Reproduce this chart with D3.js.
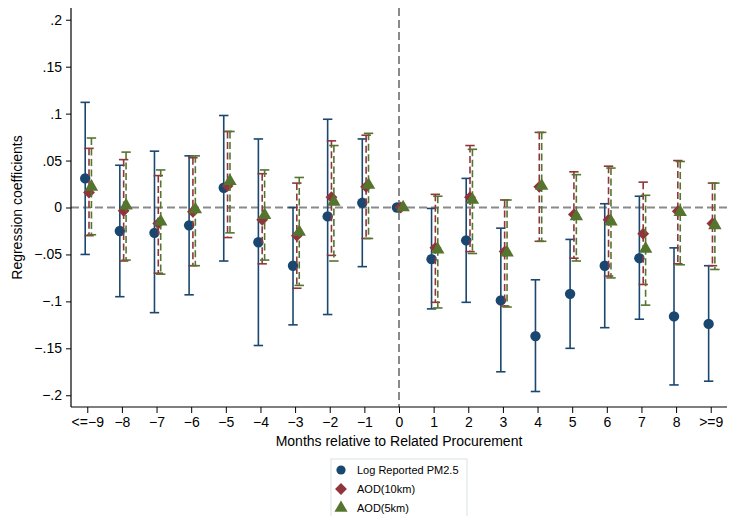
<!DOCTYPE html>
<html>
<head>
<meta charset="utf-8">
<script src="https://cdn.jsdelivr.net/npm/d3@7"></script>
<style>
  html, body { margin: 0; padding: 0; background: #fff; }
  svg { display: block; font-family: "Liberation Sans", Arial, Helvetica, sans-serif; }
</style>
</head>
<body>
<svg id="chart" width="730" height="516"></svg>
<script>
// Event-study coefficients by month relative to the related procurement
const months = [-9, -8, -7, -6, -5, -4, -3, -2, -1, 0, 1, 2, 3, 4, 5, 6, 7, 8, 9];
const monthLabels = ["<=\u22129", "\u22128", "\u22127", "\u22126", "\u22125", "\u22124", "\u22123", "\u22122", "\u22121",
                     "0", "1", "2", "3", "4", "5", "6", "7", "8", ">=9"];
const yTicks = [0.2, 0.15, 0.1, 0.05, 0, -0.05, -0.1, -0.15, -0.2];
const yTickLabels = [".2", ".15", ".1", ".05", "0", "\u2212.05", "\u2212.1", "\u2212.15", "\u2212.2"];

// Log Reported PM2.5
const pm   = [0.031, -0.025, -0.027, -0.019, 0.021, -0.037, -0.062, -0.0095, 0.005, 0, -0.055, -0.035, -0.099, -0.137, -0.092, -0.062, -0.054, -0.116, -0.124];
const pmHi = [0.112, 0.045, 0.060, 0.055, 0.098, 0.073, 0.000, 0.094, 0.073, 0, -0.001, 0.031, -0.022, -0.077, -0.034, 0.004, 0.012, -0.043, -0.062];
const pmLo = [-0.050, -0.095, -0.112, -0.093, -0.057, -0.147, -0.125, -0.114, -0.063, 0, -0.108, -0.101, -0.175, -0.196, -0.150, -0.128, -0.119, -0.189, -0.185];

// AOD(10km)
const aod10   = [0.016, -0.0035, -0.017, -0.0045, 0.023, -0.013, -0.030, 0.011, 0.022, 0, -0.043, 0.011, -0.047, 0.022, -0.0075, -0.013, -0.028, -0.004, -0.017];
const aod10Hi = [0.063, 0.051, 0.034, 0.053, 0.081, 0.036, 0.026, 0.071, 0.077, 0, 0.014, 0.066, 0.008, 0.080, 0.038, 0.044, 0.027, 0.050, 0.026];
const aod10Lo = [-0.030, -0.057, -0.070, -0.062, -0.032, -0.060, -0.086, -0.051, -0.033, 0, -0.101, -0.047, -0.105, -0.036, -0.054, -0.073, -0.082, -0.060, -0.062];

// AOD(5km)
const aod5   = [0.022, 0.002, -0.015, -0.002, 0.028, -0.008, -0.026, 0.006, 0.024, 0, -0.045, 0.008, -0.048, 0.023, -0.0095, -0.015, -0.044, -0.005, -0.019];
const aod5Hi = [0.074, 0.059, 0.040, 0.055, 0.081, 0.040, 0.032, 0.066, 0.079, 0, 0.012, 0.062, 0.008, 0.080, 0.035, 0.042, 0.013, 0.049, 0.026];
const aod5Lo = [-0.029, -0.056, -0.071, -0.062, -0.027, -0.056, -0.083, -0.057, -0.033, 0, -0.107, -0.049, -0.106, -0.036, -0.057, -0.075, -0.104, -0.061, -0.066];

const series = [
  { name: "Log Reported PM2.5", est: pm,    lo: pmLo,    hi: pmHi,    color: "#1a476f", shift: -0.06, dash: null,  shape: "circle" },
  { name: "AOD(10km)",          est: aod10, lo: aod10Lo, hi: aod10Hi, color: "#90353b", shift: 0.05,  dash: "7,3.5", shape: "diamond" },
  { name: "AOD(5km)",           est: aod5,  lo: aod5Lo,  hi: aod5Hi,  color: "#55752f", shift: 0.12,  dash: "7,3.5", shape: "triangle" }
];

const svg = d3.select("#chart");
const plot = { left: 71, right: 727, top: 8, bottom: 407 };

const x = d3.scaleLinear().domain([-9.47, 9.47]).range([plot.left, plot.right]);
const y = d3.scaleLinear().domain([-0.2125, 0.2125]).range([plot.bottom, plot.top]);

// Reference lines at zero
svg.append("line")
  .attr("x1", plot.left).attr("x2", plot.right)
  .attr("y1", y(0)).attr("y2", y(0))
  .attr("stroke", "#8a8a8a").attr("stroke-width", 2).attr("stroke-dasharray", "8,4");
svg.append("line")
  .attr("x1", x(0)).attr("x2", x(0))
  .attr("y1", plot.top).attr("y2", plot.bottom)
  .attr("stroke", "#8a8a8a").attr("stroke-width", 2).attr("stroke-dasharray", "8,4");

// Axes
const yAxis = d3.axisLeft(y).tickValues(yTicks).tickSize(5).tickPadding(4)
  .tickFormat((d, i) => yTickLabels[i]);
const gy = svg.append("g").attr("transform", `translate(${plot.left},0)`).call(yAxis);
gy.select(".domain").attr("d", `M0,${plot.top}V${plot.bottom}`).attr("stroke", "#000").attr("stroke-width", 1.2);
gy.selectAll(".tick line").attr("stroke", "#000");
gy.selectAll(".tick text").attr("font-size", 14).attr("fill", "#000")
  .attr("font-family", "'Liberation Sans', Arial, sans-serif");

const xAxis = d3.axisBottom(x).tickValues(months).tickSize(6).tickPadding(4)
  .tickFormat((d, i) => monthLabels[i]);
const gx = svg.append("g").attr("transform", `translate(0,${plot.bottom})`).call(xAxis);
gx.select(".domain").attr("d", `M${plot.left},0H${plot.right}`).attr("stroke", "#000").attr("stroke-width", 1.2);
gx.selectAll(".tick line").attr("stroke", "#000");
gx.selectAll(".tick text").attr("font-size", 14).attr("fill", "#000")
  .attr("font-family", "'Liberation Sans', Arial, sans-serif");

// Axis titles
svg.append("text")
  .attr("x", x(0)).attr("y", 446)
  .attr("text-anchor", "middle").attr("font-size", 14).attr("fill", "#000")
  .text("Months relative to Related Procurement");
svg.append("text")
  .attr("transform", `translate(22,${y(0)}) rotate(-90)`)
  .attr("text-anchor", "middle").attr("font-size", 14).attr("fill", "#000")
  .text("Regression coefficients");

// Confidence intervals and point estimates, one series after another
const capHalf = 4.7;
const symbolFor = {
  circle: d3.symbol().type(d3.symbolCircle).size(Math.PI * 5.2 * 5.2),
  diamond: d3.symbol().type(d3.symbolSquare).size(8.4 * 8.4),
  triangle: d3.symbol().type(d3.symbolTriangle).size(78)
};

series.forEach(s => {
  const g = svg.append("g");
  const rows = months.map((m, i) => ({ m, est: s.est[i], lo: s.lo[i], hi: s.hi[i] }))
    .filter(r => r.hi !== r.lo);
  const bars = g.selectAll("g.ci").data(rows).join("g").attr("class", "ci")
    .attr("stroke", s.color).attr("stroke-width", 1.6).attr("fill", "none");
  bars.append("line")
    .attr("x1", r => x(r.m + s.shift)).attr("x2", r => x(r.m + s.shift))
    .attr("y1", r => y(r.hi)).attr("y2", r => y(r.lo))
    .attr("stroke-dasharray", s.dash);
  bars.append("line")
    .attr("x1", r => x(r.m + s.shift) - capHalf).attr("x2", r => x(r.m + s.shift) + capHalf)
    .attr("y1", r => y(r.hi)).attr("y2", r => y(r.hi));
  bars.append("line")
    .attr("x1", r => x(r.m + s.shift) - capHalf).attr("x2", r => x(r.m + s.shift) + capHalf)
    .attr("y1", r => y(r.lo)).attr("y2", r => y(r.lo));

  g.selectAll("path.pt").data(months.map((m, i) => ({ m, est: s.est[i] }))).join("path")
    .attr("class", "pt")
    .attr("d", symbolFor[s.shape])
    .attr("transform", d => `translate(${x(d.m + s.shift)},${y(d.est)})` + (s.shape === "diamond" ? " rotate(45)" : ""))
    .attr("fill", s.color);
});

// Legend
const lg = svg.append("g").attr("transform", "translate(331,459)");
lg.append("rect").attr("x", 0).attr("y", 0).attr("width", 136).attr("height", 60)
  .attr("fill", "#fff").attr("stroke", "#d8e2e6").attr("stroke-width", 1);
series.forEach((s, i) => {
  const cy = 11 + i * 19;
  lg.append("path")
    .attr("d", d3.symbol().type(s.shape === "circle" ? d3.symbolCircle : s.shape === "diamond" ? d3.symbolSquare : d3.symbolTriangle)
      .size(s.shape === "circle" ? Math.PI * 4.6 * 4.6 : s.shape === "diamond" ? 70 : 75))
    .attr("transform", `translate(10,${cy})` + (s.shape === "diamond" ? " rotate(45)" : ""))
    .attr("fill", s.color);
  lg.append("text").attr("x", 26).attr("y", cy + 4)
    .attr("font-size", 11).attr("fill", "#000").text(s.name);
});
</script>
</body>
</html>
